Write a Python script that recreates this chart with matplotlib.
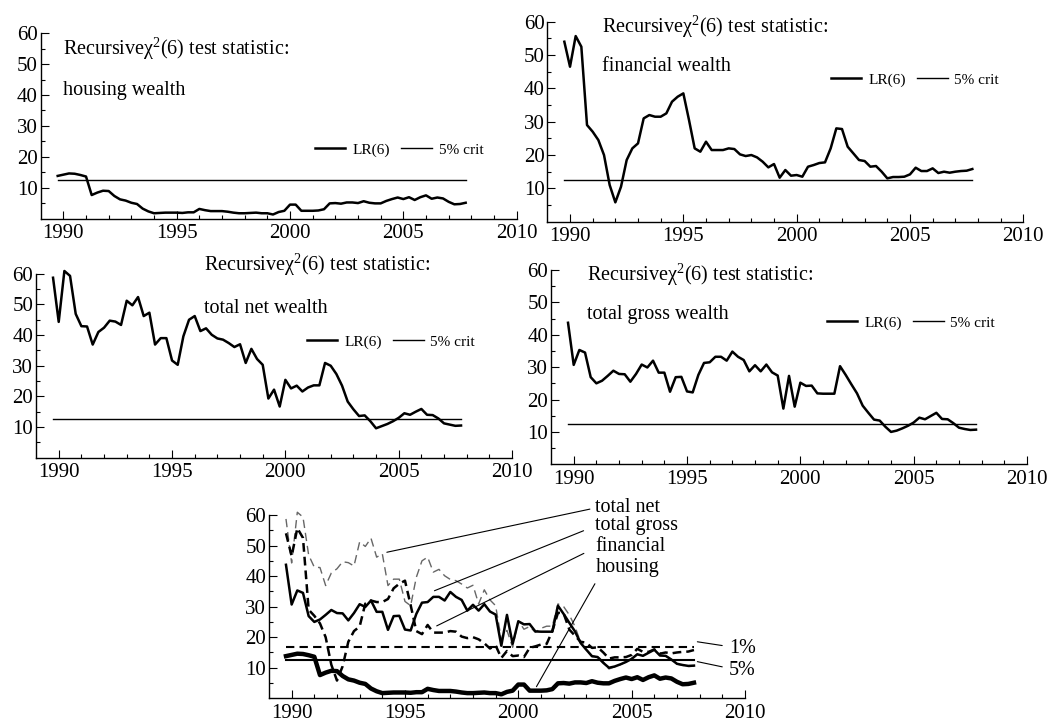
import numpy as np
import matplotlib
matplotlib.use("Agg")
import matplotlib.pyplot as plt

plt.rcParams['font.family'] = ['Liberation Serif', 'DejaVu Serif']
plt.rcParams['mathtext.fontset'] = 'custom'
plt.rcParams['mathtext.rm'] = 'Liberation Serif'
plt.rcParams['mathtext.it'] = 'Liberation Serif:italic'

# quarterly observations, 1989Q4 .. 2007Q4
quarters = np.arange(1989.75, 2007.80, 0.25)

crit_5 = 12.59
crit_1 = 16.81

housing = [13.8, 14.2, 14.6, 14.5, 14.1, 13.6, 7.6, 8.4, 9.0, 8.9,
           7.3, 6.2, 5.8, 5.1, 4.7, 3.2, 2.3, 1.7, 1.8, 1.9,
           1.9, 1.9, 1.8, 2.0, 2.0, 3.1, 2.7, 2.4, 2.4, 2.4,
           2.2, 1.9, 1.7, 1.7, 1.8, 1.9, 1.7, 1.7, 1.3, 2.1,
           2.5, 4.5, 4.5, 2.5, 2.5, 2.5, 2.6, 3.0, 4.9, 5.0,
           4.8, 5.2, 5.2, 5.0, 5.6, 5.1, 4.9, 4.9, 5.7, 6.3,
           6.8, 6.3, 6.9, 6.0, 6.9, 7.5, 6.4, 6.8, 6.5, 5.4,
           4.6, 4.7, 5.1]

financial = [54.0, 46.5, 55.7, 52.5, 29.0, 27.0, 24.5, 20.0, 11.0, 5.8,
             10.5, 18.5, 22.0, 23.5, 31.0, 32.0, 31.5, 31.5, 32.5, 36.0,
             37.5, 38.5, 30.5, 22.0, 21.0, 24.0, 21.5, 21.5, 21.5, 22.0,
             21.8, 20.2, 19.7, 20.0, 19.3, 18.0, 16.3, 17.3, 13.2, 15.5,
             13.8, 14.0, 13.5, 16.5, 17.0, 17.6, 17.8, 22.0, 28.0, 27.8,
             22.5, 20.5, 18.5, 18.2, 16.5, 16.7, 15.0, 13.0, 13.4, 13.4,
             13.5, 14.2, 16.2, 15.2, 15.2, 16.0, 14.6, 15.0, 14.7, 15.0,
             15.2, 15.3, 15.8]

total_net = [58.7, 44.3, 60.9, 59.3, 46.9, 42.9, 42.8, 36.9, 41.0, 42.4,
             44.7, 44.4, 43.3, 51.2, 49.7, 52.4, 46.2, 47.3, 36.9, 39.0,
             39.0, 31.7, 30.3, 39.6, 45.0, 46.2, 41.3, 42.2, 40.1, 38.9,
             38.5, 37.4, 36.1, 37.0, 30.9, 35.5, 32.2, 30.3, 19.3, 22.2,
             16.7, 25.4, 22.6, 23.5, 21.6, 22.9, 23.6, 23.6, 30.9, 30.0,
             27.3, 23.5, 18.3, 15.8, 13.6, 13.8, 11.9, 9.6, 10.3, 11.0,
             11.9, 13.0, 14.5, 14.0, 15.0, 15.9, 14.0, 13.9, 12.8, 11.2,
             10.8, 10.4, 10.5]

total_gross = [43.7, 30.7, 35.3, 34.5, 26.9, 25.0, 25.8, 27.3, 28.9, 27.9,
               27.8, 25.5, 27.9, 30.8, 29.9, 32.0, 28.3, 28.3, 22.4, 26.9,
               27.0, 22.5, 22.2, 27.6, 31.3, 31.5, 33.2, 33.2, 32.0, 34.8,
               33.2, 32.2, 28.7, 30.6, 28.7, 30.8, 28.4, 27.4, 17.2, 27.3,
               17.8, 25.2, 24.2, 24.3, 21.9, 21.8, 21.8, 21.8, 30.3, 27.6,
               24.7, 21.9, 18.1, 15.9, 13.8, 13.5, 11.6, 10.0, 10.4, 11.1,
               11.9, 12.9, 14.4, 13.9, 14.9, 15.9, 14.0, 13.9, 12.7, 11.3,
               10.9, 10.6, 10.7]

TITLE = "Recursiveχ$^2$(6) test statistic:"


def style_axes(ax):
    ax.set_xlim(1989, 2010)
    ax.set_ylim(0, 60)
    ax.spines[['top', 'right']].set_visible(False)
    ax.spines[['left', 'bottom']].set_linewidth(1.0)
    ax.set_xticks(range(1990, 2011, 5))
    ax.set_xticks(range(1990, 2011), minor=True)
    ax.set_yticks(range(10, 61, 10))
    ax.set_yticks(range(5, 60, 10), minor=True)
    ax.tick_params(which='both', direction='in', width=0.8)
    ax.tick_params(which='major', length=6)
    ax.tick_params(which='minor', length=3)
    ax.tick_params(axis='y', pad=2, labelsize=15)
    ax.tick_params(axis='x', pad=4, labelsize=15)


def single_panel(rect, series, subtitle, title_xy, sub_y, legend_xy):
    ax = fig.add_axes(rect)
    style_axes(ax)
    ax.plot(quarters, series, color='k', lw=1.8, label='LR(6)',
            clip_on=False)
    ax.plot(quarters[[0, -1]], [crit_5, crit_5], color='k', lw=1.0,
            label='5% crit')
    ax.text(title_xy[0], title_xy[1], TITLE, fontsize=14.5, va='center',
            ha='left', clip_on=False)
    ax.text(title_xy[0], sub_y, subtitle, fontsize=14.5, va='center',
            ha='left', clip_on=False)
    ax.legend(loc='center left', bbox_to_anchor=legend_xy,
              bbox_transform=ax.transData, ncol=2, frameon=False,
              fontsize=11, handlelength=2.0, handletextpad=0.45,
              columnspacing=0.75, borderpad=0, borderaxespad=0)
    return ax


fig = plt.figure(figsize=(10.54, 7.24), dpi=100)

single_panel([0.0386, 0.6982, 0.4516, 0.2558], housing, 'housing wealth',
             (1989.97, 55.1), 41.6, (2001.1, 22.2))
single_panel([0.5193, 0.6938, 0.4516, 0.2762], financial, 'financial wealth',
             (1991.43, 58.5), 46.5, (2001.5, 42.5))
single_panel([0.0342, 0.3678, 0.4516, 0.2541], total_net, 'total net wealth',
             (1996.41, 62.8), 48.7, (2000.94, 37.8))
single_panel([0.5228, 0.3587, 0.4516, 0.2684], total_gross,
             'total gross wealth', (1990.57, 58.5), 46.1, (2001.16, 43.7))

# combined panel
ax = fig.add_axes([0.2552, 0.0355, 0.4516, 0.2532])
style_axes(ax)
ax.plot(quarters, total_net, color='#666666', lw=1.0, dashes=(6, 3.5),
        clip_on=False)
ax.plot(quarters, financial, color='k', lw=1.8, dashes=(3.5, 2))
ax.plot(quarters, total_gross, color='k', lw=1.8)
ax.plot(quarters, housing, color='k', lw=3.2)
ax.plot(quarters[[0, -1]], [crit_1, crit_1], color='k', lw=1.5,
        dashes=(4, 2.5))
ax.plot(quarters[[0, -1]], [crit_5, crit_5], color='k', lw=1.5)

arrow = dict(arrowstyle='-', lw=0.8, color='k', shrinkB=0)
names = ['total net', 'total gross', 'financial', 'housing']
text_pos = [(2003.4, 62.3), (2003.4, 56.4), (2003.4, 49.6), (2003.4, 42.7)]
point_pos = [(1994.2, 47.8), (1996.3, 35.2), (1996.4, 23.7), (2000.8, 3.8)]
rel = [(0, 0.5), (0, 0.5), (0, 0.45), (0.05, 0.0)]
shrink = [2, 7, 7, 3]
for name, tp, pp, rp, sh in zip(names, text_pos, point_pos, rel, shrink):
    ax.annotate(name, xy=pp, xytext=tp, textcoords='data', fontsize=14.5,
                va='center', ha='left', annotation_clip=False,
                arrowprops=dict(arrow, relpos=rp, shrinkA=sh))

for lab, tp, pp in [('1%', (2009.3, 16.3), (2007.9, 18.5)),
                    ('5%', (2009.3, 9.2), (2007.9, 12.0))]:
    ax.annotate(lab, xy=pp, xytext=tp, textcoords='data', fontsize=14.5,
                va='center', ha='left', annotation_clip=False,
                arrowprops=dict(arrow, relpos=(0, 0.6), shrinkA=3))

plt.savefig('out.png', dpi=100)
